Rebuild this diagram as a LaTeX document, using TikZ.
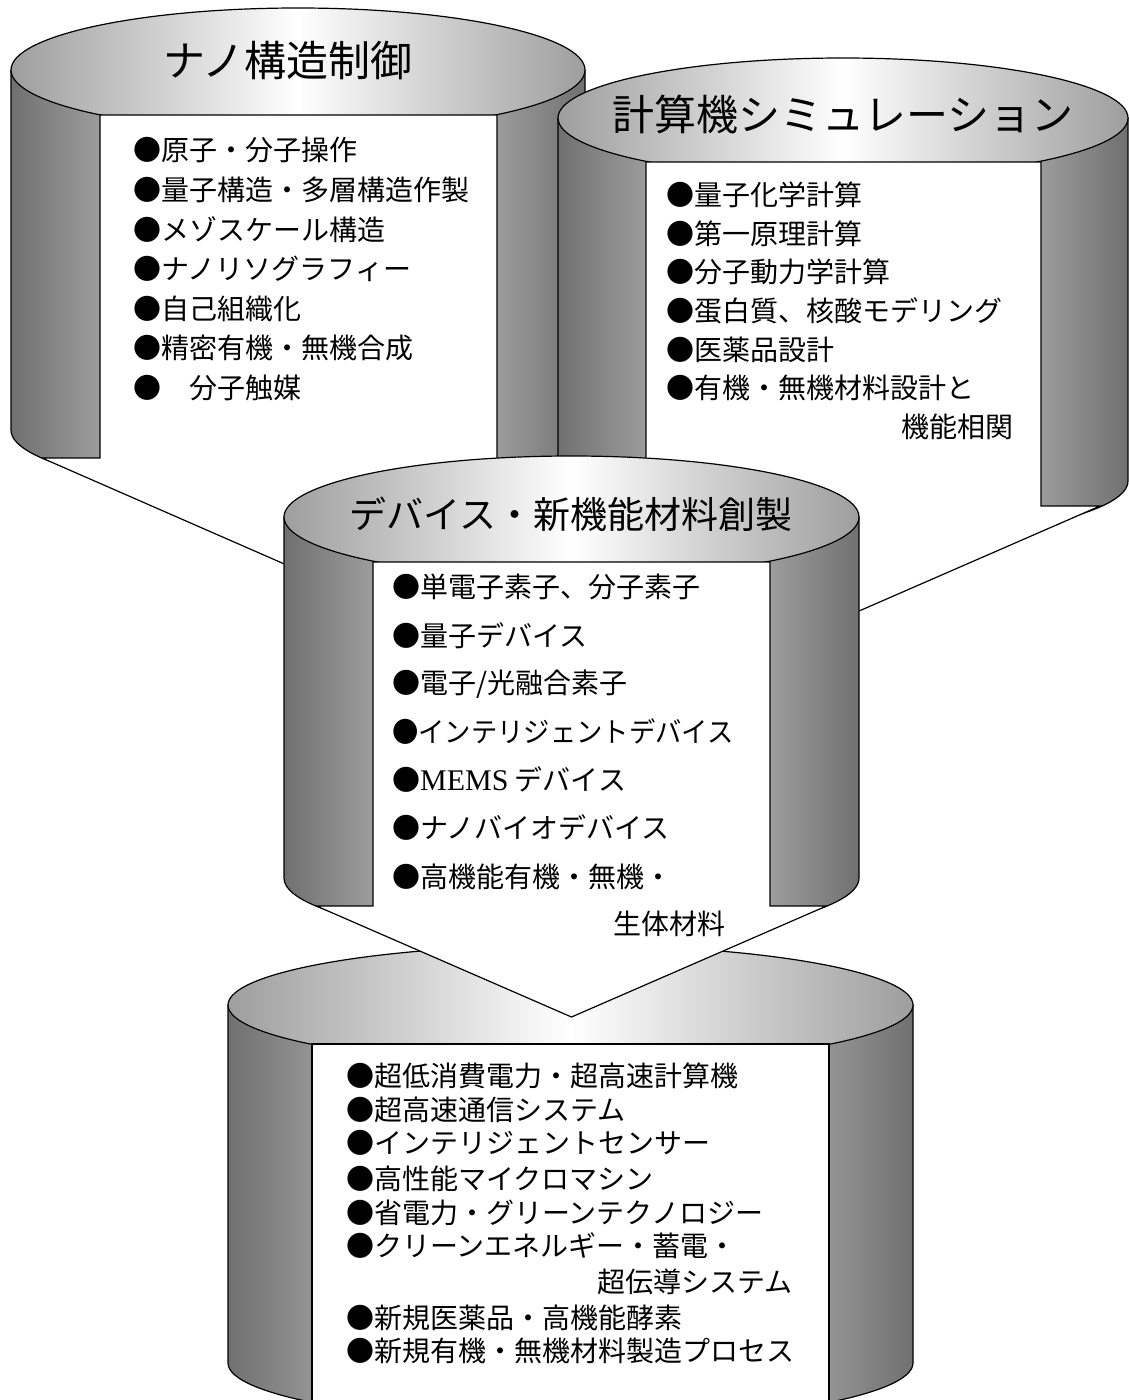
\documentclass[tikz,border=0pt]{standalone}
\usepackage{fontspec}
\usepackage{graphicx}
\newfontfamily\jp{Noto Sans CJK JP}
\newfontfamily\lat{Liberation Serif}
\pgfdeclarehorizontalshading{wallshade}{100bp}{color(0bp)=(black!56); color(25bp)=(black!56); color(33bp)=(black!38); color(50bp)=(black!25); color(67bp)=(black!38); color(75bp)=(black!56); color(100bp)=(black!56)}
\begin{document}
\begin{tikzpicture}[x=1pt,y=-1pt,
  outl/.style={draw=black, line width=1.2pt, line join=miter},
  body/.style={outl, shade, shading=wallshade},
  lid/.style={outl, left color=black!38, right color=black!38, middle color=white},
  paper/.style={outl, fill=white},
  item/.style={anchor=west, inner sep=0pt, font=\jp\fontsize{28}{34}\selectfont},
  ttl/.style={inner sep=0pt, font=\jp\fontsize{42}{50}\selectfont},
  ttlc/.style={inner sep=0pt, font=\jp\fontsize{37}{44}\selectfont},
]
\useasboundingbox (0,0) rectangle (1129,1400);
\fill[white] (0,0) rectangle (1129,1400);
\clip (0,0) rectangle (1129,1400);

% cylinder A
\path[body] (11,70) -- (11,430) arc[start angle=180, end angle=0, x radius=287, y radius=62] -- (585,70) -- cycle;
\path[lid] (298,70) ellipse [x radius=287, y radius=62];

% cylinder B
\path[body] (558,118) -- (558,481) arc[start angle=180, end angle=0, x radius=285, y radius=60] -- (1128,118) -- cycle;
\path[lid] (843,118) ellipse [x radius=285, y radius=60];

% cylinder D
\path[body] (228,1005) -- (228,1363) arc[start angle=180, end angle=0, x radius=342.5, y radius=60] -- (913,1005) -- cycle;
\path[lid] (570.5,1005) ellipse [x radius=342.5, y radius=60];
\path[paper] (312,1430) -- (312,1044) -- (829,1044) -- (829,1430) -- cycle;

% top funnel (A + B into C)
\path[paper] (42,458) -- (100,458) -- (100,115) -- (497,115) -- (497,470) -- (646,470) -- (646,162) -- (1041,162) -- (1041,506) -- (1100,506) -- (625,713) -- cycle;

% cylinder C
\path[body] (284,517) -- (284,878) arc[start angle=180, end angle=0, x radius=287.5, y radius=61] -- (859,517) -- cycle;
\path[lid] (571.5,517) ellipse [x radius=287.5, y radius=61];
\path[paper] (316.5,906) -- (373,906) -- (373,562) -- (770,562) -- (770,906) -- (826.5,906) -- (571.5,1017) -- cycle;

% titles
\node[ttl] (ta) at (288,61) {ナノ構造制御};
\node[ttl] (tb) at (843,114) {計算機シミュレーション};
\node[ttlc] (tc) at (571,514) {デバイス・新機能材料創製};

% A items
\node[item] (a1) at (133,150) {●原子・分子操作};
\node[item] (a2) at (133,189.7) {●量子構造・多層構造作製};
\node[item] (a3) at (133,229.3) {●メゾスケール構造};
\node[item] (a4) at (133,269) {●ナノリソグラフィー};
\node[item] (a5) at (133,308.7) {●自己組織化};
\node[item] (a6) at (133,348.3) {●精密有機・無機合成};
\node[item] (a7) at (133,388) {●　分子触媒};

% B items
\node[item] (b1) at (666,195) {●量子化学計算};
\node[item] (b2) at (666,233.7) {●第一原理計算};
\node[item] (b3) at (666,272.3) {●分子動力学計算};
\node[item] (b4) at (666,311) {●蛋白質、核酸モデリング};
\node[item] (b5) at (666,349.7) {●医薬品設計};
\node[item] (b6) at (666,388.3) {●有機・無機材料設計と};
\node[item, anchor=east] (b7) at (1014,427) {機能相関};

% C items
\node[item] (c1) at (392,587) {●単電子素子、分子素子};
\node[item] (c2) at (392,636) {●量子デバイス};
\node[item] (c3) at (392,684) {●電子/光融合素子};
\node[item] (c4) at (392,732) {\scalebox{0.94}[1]{●インテリジェントデバイス}};
\node[item] (c5) at (392,780) {●{\lat\fontsize{30}{34}\selectfont MEMS} デバイス};
\node[item] (c6) at (392,828) {●ナノバイオデバイス};
\node[item] (c7) at (392,877) {●高機能有機・無機・};
\node[item] (c8) at (613,924) {生体材料};

% D items
\node[item] (d1) at (346,1076) {●超低消費電力・超高速計算機};
\node[item] (d2) at (346,1110) {●超高速通信システム};
\node[item] (d3) at (346,1143) {●インテリジェントセンサー};
\node[item] (d4) at (346,1179) {●高性能マイクロマシン};
\node[item] (d5) at (346,1213) {●省電力・グリーンテクノロジー};
\node[item] (d6) at (346,1246) {●クリーンエネルギー・蓄電・};
\node[item] (d7) at (597,1282) {超伝導システム};
\node[item] (d8) at (346,1318) {●新規医薬品・高機能酵素};
\node[item] (d9) at (346,1351) {●新規有機・無機材料製造プロセス};
\end{tikzpicture}
\end{document}
